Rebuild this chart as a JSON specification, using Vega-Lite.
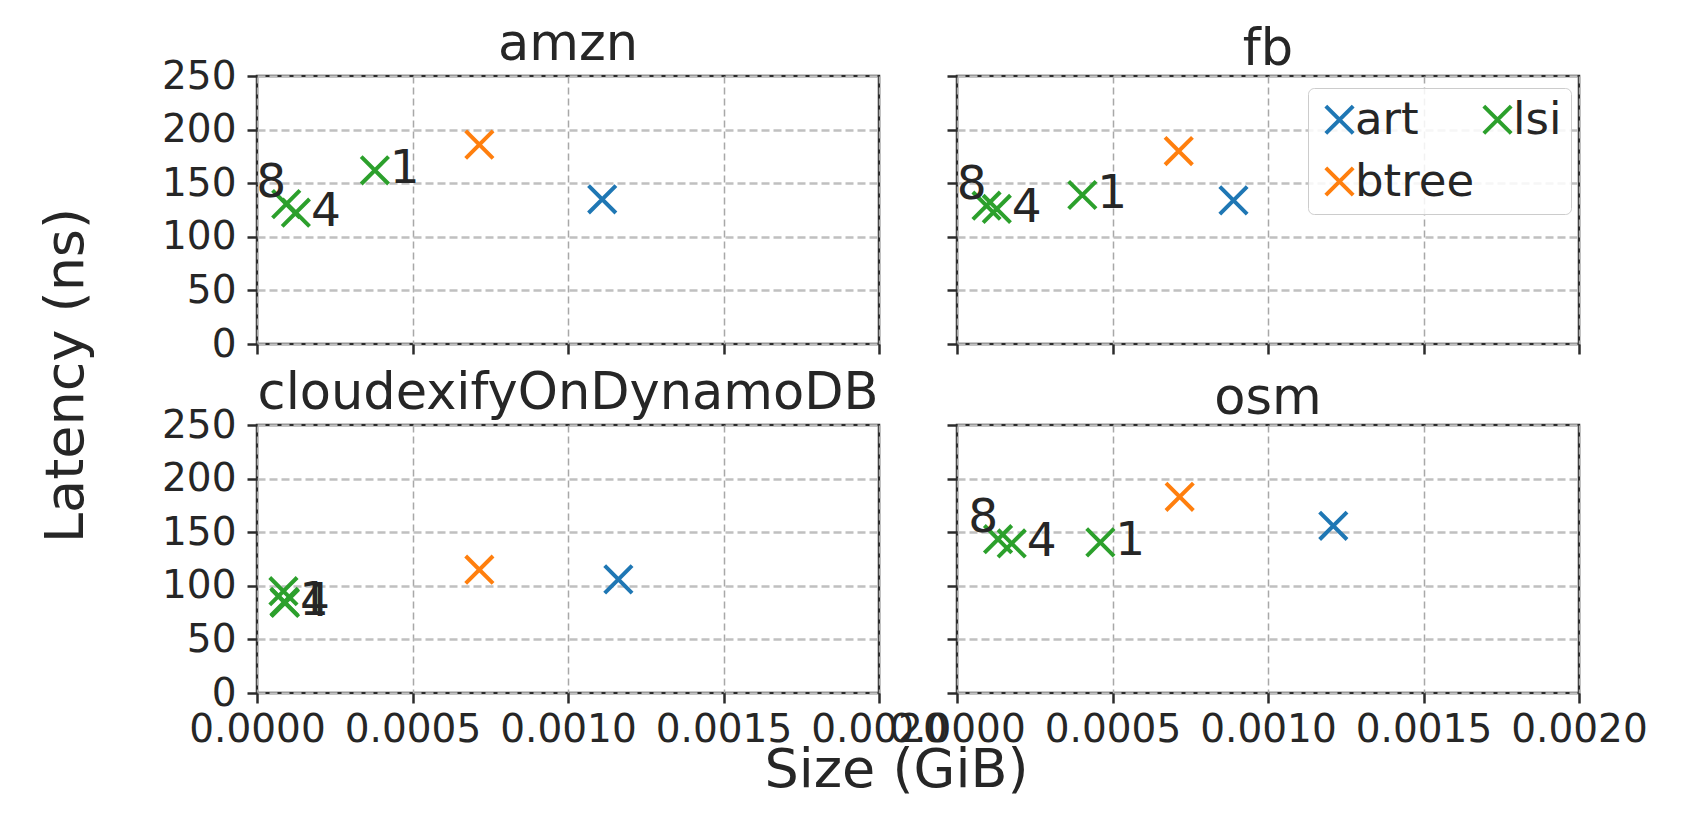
{
  "$schema": "https://vega.github.io/schema/vega-lite/v6.json",
  "autosize": {"type": "none"},
  "padding": {"left": 257, "top": 76, "right": 1433, "bottom": 740},
  "background": "white",
  "data": {
    "values": [
      {"dataset": "amzn", "series": "art", "size": 0.00111, "latency": 135, "label": null},
      {"dataset": "amzn", "series": "btree", "size": 0.000715, "latency": 186, "label": null},
      {"dataset": "amzn", "series": "lsi", "size": 0.000379, "latency": 162, "label": "1"},
      {"dataset": "amzn", "series": "lsi", "size": 0.000125, "latency": 122.5, "label": "4"},
      {"dataset": "amzn", "series": "lsi", "size": 0.000094, "latency": 130.5, "label": "8"},
      {"dataset": "fb", "series": "art", "size": 0.000889, "latency": 134, "label": null},
      {"dataset": "fb", "series": "btree", "size": 0.000713, "latency": 180, "label": null},
      {"dataset": "fb", "series": "lsi", "size": 0.000403, "latency": 139, "label": "1"},
      {"dataset": "fb", "series": "lsi", "size": 0.000128, "latency": 126, "label": "4"},
      {"dataset": "fb", "series": "lsi", "size": 0.000095, "latency": 129, "label": "8"},
      {"dataset": "cloudexifyOnDynamoDB", "series": "art", "size": 0.001162, "latency": 106, "label": null},
      {"dataset": "cloudexifyOnDynamoDB", "series": "btree", "size": 0.000715, "latency": 115, "label": null},
      {"dataset": "cloudexifyOnDynamoDB", "series": "lsi", "size": 0.000088, "latency": 85, "label": "1"},
      {"dataset": "cloudexifyOnDynamoDB", "series": "lsi", "size": 0.00009, "latency": 84, "label": "4"},
      {"dataset": "cloudexifyOnDynamoDB", "series": "lsi", "size": 0.000085, "latency": 95, "label": null},
      {"dataset": "osm", "series": "art", "size": 0.00121, "latency": 156, "label": null},
      {"dataset": "osm", "series": "btree", "size": 0.000716, "latency": 183, "label": null},
      {"dataset": "osm", "series": "lsi", "size": 0.000461, "latency": 140.5, "label": "1"},
      {"dataset": "osm", "series": "lsi", "size": 0.000176, "latency": 139.5, "label": "4"},
      {"dataset": "osm", "series": "lsi", "size": 0.000132, "latency": 143.5, "label": "8"}
    ]
  },
  "columns": 2,
  "spacing": {"row": 81, "column": 78},
  "bounds": "flush",
  "concat": [
    {
      "width": 622, "height": 268,
      "title": {"text": "amzn", "offset": -14},
      "transform": [{"filter": "datum.dataset === 'amzn'"}],
      "encoding": {
        "x": {"field": "size", "type": "quantitative", "scale": {"domain": [0, 0.002], "nice": false, "zero": false},
              "axis": {"values": [0, 0.0005, 0.001, 0.0015, 0.002], "labels": false, "title": null}},
        "y": {"field": "latency", "type": "quantitative", "scale": {"domain": [0, 250], "nice": false},
              "axis": {"values": [0, 50, 100, 150, 200, 250], "title": "Latency (ns)", "titleX": -175, "titleY": 299, "titleAngle": 270, "titleAlign": "center", "titleBaseline": "alphabetic"}}
      },
      "layer": [
        {"mark": {"type": "point", "shape": "M-1,-1L1,1M1,-1L-1,1", "filled": false, "size": 750, "strokeWidth": 4, "opacity": 1},
         "encoding": {"color": {"field": "series", "type": "nominal", "title": null, "scale": {"domain": ["art", "btree", "lsi"], "range": ["#1f77b4", "#ff7f0e", "#2ca02c"]}}}},
        {"transform": [{"filter": "datum.series === 'lsi' && datum.label !== '8' && datum.label !== null"}],
         "mark": {"type": "text", "align": "left", "baseline": "alphabetic", "dx": 15, "dy": 13, "fontSize": 47, "font": "DejaVu Sans", "color": "#262626"},
         "encoding": {"text": {"field": "label"}}},
        {"transform": [{"filter": "datum.label === '8'"}],
         "mark": {"type": "text", "align": "right", "baseline": "alphabetic", "dx": 0, "dy": -7, "fontSize": 47, "font": "DejaVu Sans", "color": "#262626"},
         "encoding": {"text": {"field": "label"}}}
      ]
    },
    {
      "width": 622, "height": 268,
      "title": {"text": "fb", "offset": -1},
      "transform": [{"filter": "datum.dataset === 'fb'"}],
      "encoding": {
        "x": {"field": "size", "type": "quantitative", "scale": {"domain": [0, 0.002], "nice": false, "zero": false},
              "axis": {"values": [0, 0.0005, 0.001, 0.0015, 0.002], "labels": false, "title": null}},
        "y": {"field": "latency", "type": "quantitative", "scale": {"domain": [0, 250], "nice": false},
              "axis": {"values": [0, 50, 100, 150, 200, 250], "labels": false, "title": null}}
      },
      "layer": [
        {"mark": {"type": "point", "shape": "M-1,-1L1,1M1,-1L-1,1", "filled": false, "size": 750, "strokeWidth": 4, "opacity": 1},
         "encoding": {"color": {"field": "series", "type": "nominal", "title": null, "scale": {"domain": ["art", "btree", "lsi"], "range": ["#1f77b4", "#ff7f0e", "#2ca02c"]}}}},
        {"transform": [{"filter": "datum.series === 'lsi' && datum.label !== '8' && datum.label !== null"}],
         "mark": {"type": "text", "align": "left", "baseline": "alphabetic", "dx": 15, "dy": 13, "fontSize": 47, "font": "DejaVu Sans", "color": "#262626"},
         "encoding": {"text": {"field": "label"}}},
        {"transform": [{"filter": "datum.label === '8'"}],
         "mark": {"type": "text", "align": "right", "baseline": "alphabetic", "dx": 0, "dy": -7, "fontSize": 47, "font": "DejaVu Sans", "color": "#262626"},
         "encoding": {"text": {"field": "label"}}}
      ]
    },
    {
      "width": 622, "height": 268,
      "title": {"text": "cloudexifyOnDynamoDB", "offset": -14},
      "transform": [{"filter": "datum.dataset === 'cloudexifyOnDynamoDB'"}],
      "encoding": {
        "x": {"field": "size", "type": "quantitative", "scale": {"domain": [0, 0.002], "nice": false, "zero": false},
              "axis": {"values": [0, 0.0005, 0.001, 0.0015, 0.002], "format": ".4f", "title": "Size (GiB)", "titleX": 639, "titleY": 93, "titleAlign": "center", "titleBaseline": "alphabetic"}},
        "y": {"field": "latency", "type": "quantitative", "scale": {"domain": [0, 250], "nice": false},
              "axis": {"values": [0, 50, 100, 150, 200, 250], "title": null}}
      },
      "layer": [
        {"mark": {"type": "point", "shape": "M-1,-1L1,1M1,-1L-1,1", "filled": false, "size": 750, "strokeWidth": 4, "opacity": 1},
         "encoding": {"color": {"field": "series", "type": "nominal", "title": null, "scale": {"domain": ["art", "btree", "lsi"], "range": ["#1f77b4", "#ff7f0e", "#2ca02c"]}}}},
        {"transform": [{"filter": "datum.series === 'lsi' && datum.label !== '8' && datum.label !== null"}],
         "mark": {"type": "text", "align": "left", "baseline": "alphabetic", "dx": 15, "dy": 13, "fontSize": 47, "font": "DejaVu Sans", "color": "#262626"},
         "encoding": {"text": {"field": "label"}}},
        {"transform": [{"filter": "datum.label === '8'"}],
         "mark": {"type": "text", "align": "right", "baseline": "alphabetic", "dx": 0, "dy": -7, "fontSize": 47, "font": "DejaVu Sans", "color": "#262626"},
         "encoding": {"text": {"field": "label"}}}
      ]
    },
    {
      "width": 622, "height": 268,
      "title": {"text": "osm", "offset": -1},
      "transform": [{"filter": "datum.dataset === 'osm'"}],
      "encoding": {
        "x": {"field": "size", "type": "quantitative", "scale": {"domain": [0, 0.002], "nice": false, "zero": false},
              "axis": {"values": [0, 0.0005, 0.001, 0.0015, 0.002], "format": ".4f", "title": null}},
        "y": {"field": "latency", "type": "quantitative", "scale": {"domain": [0, 250], "nice": false},
              "axis": {"values": [0, 50, 100, 150, 200, 250], "labels": false, "title": null}}
      },
      "layer": [
        {"mark": {"type": "point", "shape": "M-1,-1L1,1M1,-1L-1,1", "filled": false, "size": 750, "strokeWidth": 4, "opacity": 1},
         "encoding": {"color": {"field": "series", "type": "nominal", "title": null, "scale": {"domain": ["art", "btree", "lsi"], "range": ["#1f77b4", "#ff7f0e", "#2ca02c"]}}}},
        {"transform": [{"filter": "datum.series === 'lsi' && datum.label !== '8' && datum.label !== null"}],
         "mark": {"type": "text", "align": "left", "baseline": "alphabetic", "dx": 15, "dy": 13, "fontSize": 47, "font": "DejaVu Sans", "color": "#262626"},
         "encoding": {"text": {"field": "label"}}},
        {"transform": [{"filter": "datum.label === '8'"}],
         "mark": {"type": "text", "align": "right", "baseline": "alphabetic", "dx": 0, "dy": -7, "fontSize": 47, "font": "DejaVu Sans", "color": "#262626"},
         "encoding": {"text": {"field": "label"}}}
      ]
    }
  ],
  "config": {
    "font": "DejaVu Sans",
    "view": {"stroke": "#2b2b2b", "strokeWidth": 2.5, "fill": "white"},
    "title": {"font": "DejaVu Sans", "fontSize": 51, "fontWeight": "normal", "color": "#262626", "anchor": "middle", "frame": "group", "offset": 11, "baseline": "alphabetic"},
    "axis": {
      "domain": false,
      "grid": true,
      "ticks": true,
      "tickColor": "#2b2b2b",
      "tickWidth": 2.5,
      "tickSize": 10,
      "labelFont": "DejaVu Sans",
      "labelFontSize": 39,
      "labelColor": "#262626",
      "labelPadding": 11,
      "labelFlush": false,
      "labelOverlap": false,
      "labelBound": false,
      "titleFont": "DejaVu Sans",
      "titleFontSize": 54,
      "titleFontWeight": "normal",
      "titleColor": "#262626"
    },
    "axisX": {"gridColor": "#a8a8a8", "gridWidth": 1.5, "gridDash": [7, 4], "gridOpacity": 1, "labelPadding": 7},
    "axisY": {"gridColor": "#c0c0c0", "gridWidth": 2.5, "gridDash": [8, 4], "gridOpacity": 1},
    "legend": {
      "orient": "none",
      "legendX": 1051,
      "legendY": 12,
      "columns": 2,
      "symbolType": "M-1,-1L1,1M1,-1L-1,1",
      "symbolSize": 750,
      "symbolStrokeWidth": 4,
      "labelFont": "DejaVu Sans",
      "labelFontSize": 45,
      "labelColor": "#262626",
      "labelOffset": -7,
      "padding": 9,
      "rowPadding": 16,
      "columnPadding": 0,
      "strokeColor": "#cccccc",
      "fillColor": "rgba(255,255,255,0.85)",
      "cornerRadius": 6
    }
  }
}
